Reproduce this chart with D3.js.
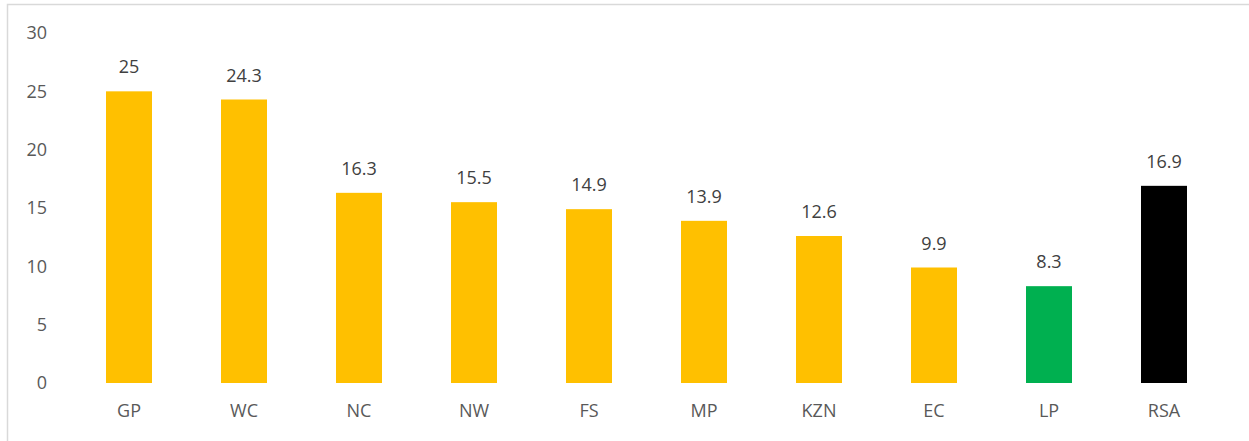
<!DOCTYPE html>
<html lang="en">
<head>
    <meta charset="UTF-8">
    <title>Provinces bar chart</title>
    <script src="https://d3js.org/d3.v7.min.js"></script>
    <style>
        body {
            margin: 0;
            background: #fff;
            font-family: "Open Sans", Arial, sans-serif;
        }
        .tick-label {
            fill: #595959;
            font-size: 18px;
        }
        .value-label {
            fill: #404040;
            font-size: 18px;
        }
    </style>
</head>
<body>
    <div id="chart"></div>
    <script>
        // Chart data
        const categories = ["GP", "WC", "NC", "NW", "FS", "MP", "KZN", "EC", "LP", "RSA"];
        const values = [25, 24.3, 16.3, 15.5, 14.9, 13.9, 12.6, 9.9, 8.3, 16.9];
        const barColors = ["#FFC000", "#FFC000", "#FFC000", "#FFC000", "#FFC000",
                           "#FFC000", "#FFC000", "#FFC000", "#00B050", "#000000"];
        const yTicks = [0, 5, 10, 15, 20, 25, 30];

        const width = 1249;
        const height = 441;

        const svg = d3.select("#chart")
            .append("svg")
            .attr("width", width)
            .attr("height", height);

        // Chart frame (extends past the right and bottom edges)
        svg.append("rect")
            .attr("x", 7.5)
            .attr("y", 4.5)
            .attr("width", width + 10)
            .attr("height", height + 10)
            .attr("fill", "none")
            .attr("stroke", "#d9d9d9")
            .attr("stroke-width", 1.5);

        // Scales
        const x = d3.scaleBand()
            .domain(categories)
            .range([71.5, 1221.5])
            .paddingInner(0.6)
            .paddingOuter(0.3);

        const y = d3.scaleLinear()
            .domain([0, 30])
            .range([383, 33]);

        // Y axis labels
        const yAxis = svg.append("g")
            .attr("transform", "translate(47,0)")
            .call(d3.axisLeft(y).tickValues(yTicks).tickSize(0).tickPadding(0));
        yAxis.select(".domain").remove();
        yAxis.selectAll("text")
            .attr("class", "tick-label")
            .attr("fill", null);

        // X axis labels
        const xAxis = svg.append("g")
            .attr("transform", "translate(0,404)")
            .call(d3.axisBottom(x).tickSize(0).tickPadding(0));
        xAxis.select(".domain").remove();
        xAxis.selectAll("text")
            .attr("class", "tick-label")
            .attr("fill", null);

        // remove the axis group font attrs so the css wins
        svg.selectAll("g").attr("font-size", null).attr("font-family", null);

        // Bars
        svg.selectAll(".bar")
            .data(values)
            .enter().append("rect")
            .attr("class", "bar")
            .attr("x", (d, i) => x(categories[i]))
            .attr("y", d => y(d))
            .attr("width", x.bandwidth())
            .attr("height", d => y(0) - y(d))
            .attr("fill", (d, i) => barColors[i]);

        // Value labels
        svg.selectAll(".value-label")
            .data(values)
            .enter().append("text")
            .attr("class", "value-label")
            .attr("x", (d, i) => x(categories[i]) + x.bandwidth() / 2)
            .attr("y", d => y(d) - 18)
            .attr("text-anchor", "middle")
            .text(d => d);
    </script>
</body>
</html>
